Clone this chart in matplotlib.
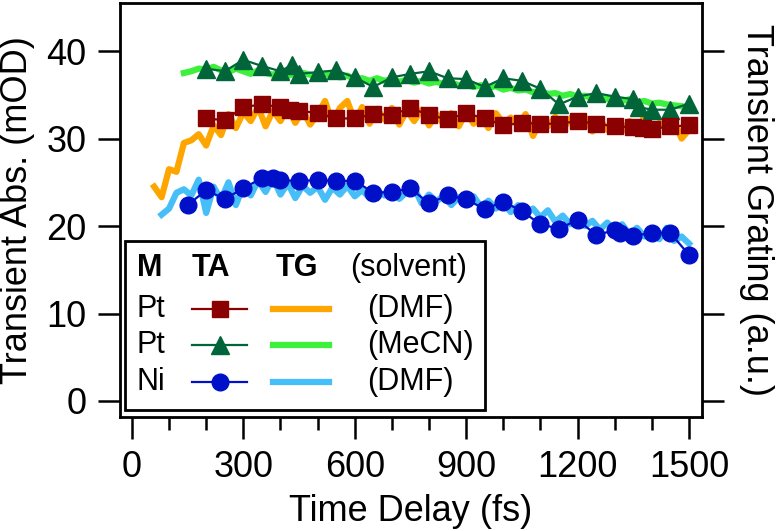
import numpy as np
import matplotlib
matplotlib.use("Agg")
import matplotlib.pyplot as plt
from matplotlib.patches import Rectangle

plt.rcParams['font.family'] = ['Liberation Sans', 'DejaVu Sans']

# TA data (markers)
t_pt_dmf = [200, 250, 300, 350, 400, 425, 450, 500, 550, 600, 650, 700, 750, 800, 850,
            900, 950, 1000, 1050, 1100, 1150, 1200, 1250, 1300, 1350, 1375, 1400, 1450, 1500]
ta_pt_dmf = [32.3, 32.1, 33.6, 33.9, 33.6, 33.3, 33.2, 32.9, 32.3, 32.3, 32.8, 32.7, 33.5, 32.7, 32.2,
             32.9, 32.3, 31.5, 31.8, 31.7, 31.7, 32.0, 31.7, 31.4, 31.3, 31.2, 31.1, 31.4, 31.5]

t_pt_mecn = [200, 250, 300, 350, 400, 430, 450, 500, 550, 600, 650, 700, 750, 800, 850,
             900, 950, 1000, 1050, 1100, 1150, 1200, 1250, 1300, 1350, 1365, 1400, 1450, 1500]
ta_pt_mecn = [38.0, 37.7, 39.0, 38.3, 37.7, 38.4, 37.4, 37.6, 37.8, 37.0, 35.9, 37.0, 37.4, 37.7, 36.9,
              36.8, 35.9, 36.9, 36.6, 35.7, 33.9, 34.8, 35.2, 34.8, 34.5, 33.6, 33.3, 33.3, 34.0]

t_ni_dmf = [150, 200, 250, 300, 350, 380, 400, 450, 500, 550, 600, 650, 700, 750, 800,
            850, 900, 950, 1000, 1050, 1100, 1150, 1200, 1250, 1300, 1315, 1350, 1400, 1450, 1500]
ta_ni_dmf = [22.4, 24.1, 23.1, 24.3, 25.5, 25.5, 25.3, 25.1, 25.3, 25.1, 25.2, 23.8, 23.9, 24.3, 22.6,
             23.5, 23.1, 21.9, 22.8, 21.7, 20.2, 19.7, 20.7, 19.0, 19.5, 19.2, 18.9, 19.2, 19.2, 16.7]

# TG data (lines)
tg_t_pt_dmf = np.arange(60, 1501, 20)
tg_pt_dmf = [24.5, 23.3, 26.5, 26.2, 29.5, 29.8, 30.5, 29.2, 31.5, 30.4, 32.8, 31.2, 33.0, 32.0, 33.6,
             31.4, 33.2, 32.0, 33.5, 31.8, 33.2, 31.6, 32.8, 34.3, 31.8, 33.5, 34.3, 32.0, 33.6, 31.7,
             33.4, 32.2, 33.5, 31.6, 33.2, 32.0, 33.3, 31.5, 32.8, 31.6, 32.9, 31.4, 33.0, 31.7, 32.6,
             31.2, 32.9, 31.8, 32.4, 31.5, 32.8, 30.3, 32.0, 31.4, 32.5, 31.0, 32.3, 31.6, 32.4, 30.8,
             32.2, 31.0, 31.8, 30.9, 32.0, 31.0, 32.5, 30.9, 31.8, 31.2, 32.0, 30.0, 31.0]

tg_t_ni_dmf = np.arange(80, 1501, 20)
tg_ni_dmf = [21.3, 22.0, 23.8, 24.2, 23.5, 25.3, 21.5, 24.5, 23.0, 25.0, 22.4, 24.6, 23.5, 25.2, 23.9,
             25.5, 23.6, 24.9, 23.2, 24.6, 23.8, 24.5, 23.0, 24.4, 23.6, 24.6, 23.4, 24.1, 23.2, 24.0,
             23.5, 24.2, 23.1, 23.9, 24.4, 22.6, 23.6, 22.8, 23.5, 22.4, 23.3, 22.9, 23.4, 22.2, 22.9,
             22.0, 22.6, 21.6, 22.4, 21.4, 22.0, 21.0, 21.8, 20.5, 21.2, 20.2, 21.0, 20.0, 20.6, 19.6,
             20.4, 19.4, 20.2, 19.0, 19.8, 18.8, 19.6, 18.5, 19.8, 18.3, 18.8, 18.0]

tg_t_pt_mecn = np.arange(140, 1501, 20)
tg_pt_mecn = [37.5, 37.7, 38.0, 37.9, 38.2, 37.8, 37.6, 38.0, 37.7, 37.4, 37.8, 37.5, 37.3, 37.6, 37.2,
              37.4, 37.5, 37.3, 37.1, 37.4, 37.2, 37.0, 37.2, 36.8, 36.9, 36.6, 36.9, 36.6, 36.8, 36.5,
              36.7, 36.4, 36.6, 36.3, 36.5, 36.2, 36.4, 36.1, 36.2, 35.9, 36.1, 35.8, 36.0, 35.6, 35.8,
              35.5, 35.6, 35.3, 35.4, 35.1, 35.2, 34.9, 35.1, 34.8, 34.9, 34.6, 34.8, 34.5, 34.6, 34.3,
              34.5, 34.1, 34.3, 34.0, 34.1, 33.9, 33.8, 33.7, 33.6]

# colours
c_red = '#8b0000'
c_dgreen = '#00663a'
c_blue = '#0010c8'
c_orange = '#ffa500'
c_lgreen = '#3cf03c'
c_lblue = '#46bef8'

narrow = ['Liberation Sans Narrow', 'Liberation Sans']

fig = plt.figure(figsize=(7.77, 5.31), dpi=100)
ax = fig.add_axes([120 / 777, 1 - 417 / 531, 582 / 777, 414 / 531])

# TG lines
ax.plot(tg_t_pt_mecn, tg_pt_mecn, color=c_lgreen, lw=4.5, zorder=2)
ax.plot(tg_t_pt_dmf, tg_pt_dmf, color=c_orange, lw=4.5, zorder=2)
ax.plot(tg_t_ni_dmf, tg_ni_dmf, color=c_lblue, lw=4.5, zorder=2)

# TA markers
ax.plot(t_pt_mecn, ta_pt_mecn, color=c_dgreen, lw=1.6, marker='^', ms=13, zorder=3)
ax.plot(t_pt_dmf, ta_pt_dmf, color=c_red, lw=1.6, marker='s', ms=12, zorder=3)
ax.plot(t_ni_dmf, ta_ni_dmf, color=c_blue, lw=1.6, marker='o', ms=12, zorder=3)

ax.set_xlim(-32, 1535)
ax.set_ylim(-1.83, 45.5)
ax.set_xticks([0, 300, 600, 900, 1200, 1500])
ax.set_xticks(np.arange(100, 1500, 100), minor=True)
ax.set_yticks([0, 10, 20, 30, 40])
for s in ax.spines.values():
    s.set_linewidth(2)
ax.tick_params(axis='both', which='major', direction='out', length=16, width=1.8, pad=8)
ax.tick_params(axis='x', which='minor', direction='out', length=9, width=1.8)
ax.tick_params(axis='y', which='both', right=True)
for lab in ax.get_xticklabels() + ax.get_yticklabels():
    lab.set_family(narrow)
    lab.set_fontsize(26)

ax.set_xlabel('Time Delay (fs)', fontsize=26, labelpad=6)
ax.set_ylabel('Transient Abs. (mOD)', fontsize=26, labelpad=8)
ax2 = ax.twinx()
ax2.set_ylim(ax.get_ylim())
ax2.set_yticks([0, 10, 20, 30, 40])
ax2.set_yticklabels([])
ax2.tick_params(axis='y', direction='out', length=16, width=1.8)
ax2.set_ylabel('Transient Grating (a.u.)', fontsize=26, rotation=270, labelpad=32)

# hand-made legend table
tr = ax.transAxes
ax.add_patch(Rectangle((0.0086, 0.017), 0.618, 0.408, transform=tr, fill=True,
                       facecolor='white', edgecolor='black', lw=2, zorder=5))
fs = 22
rows_y = [0.261, 0.174, 0.0845]
ax.text(0.029, 0.360, 'M', transform=tr, fontsize=fs, fontweight='bold', va='center', zorder=6)
ax.text(0.156, 0.360, 'TA', transform=tr, fontsize=fs, fontweight='bold', va='center', ha='center', zorder=6)
ax.text(0.304, 0.360, 'TG', transform=tr, fontsize=fs, fontweight='bold', va='center', ha='center', zorder=6)
ax.text(0.395, 0.360, '(solvent)', transform=tr, fontsize=fs, va='center', zorder=6)
metals = ['Pt', 'Pt', 'Ni']
solvents = ['(DMF)', '(MeCN)', '(DMF)']
ta_styles = [(c_red, 's', 12), (c_dgreen, '^', 13), (c_blue, 'o', 12)]
tg_colors = [c_orange, c_lgreen, c_lblue]
for y, m, sv, (c, mk, ms), tc in zip(rows_y, metals, solvents, ta_styles, tg_colors):
    ax.text(0.029, y, m, transform=tr, fontsize=fs, va='center', zorder=6)
    ax.plot([0.124, 0.218], [y, y], transform=tr, color=c, lw=1.6, zorder=6, clip_on=False)
    ax.plot([0.171], [y], transform=tr, color=c, marker=mk, ms=ms, zorder=7, clip_on=False)
    ax.plot([0.263, 0.359], [y, y], transform=tr, color=tc, lw=4.5, zorder=6, clip_on=False)
    ax.text(0.424, y, sv, transform=tr, fontsize=fs, va='center', zorder=6)

fig.savefig('out.png', dpi=100)
